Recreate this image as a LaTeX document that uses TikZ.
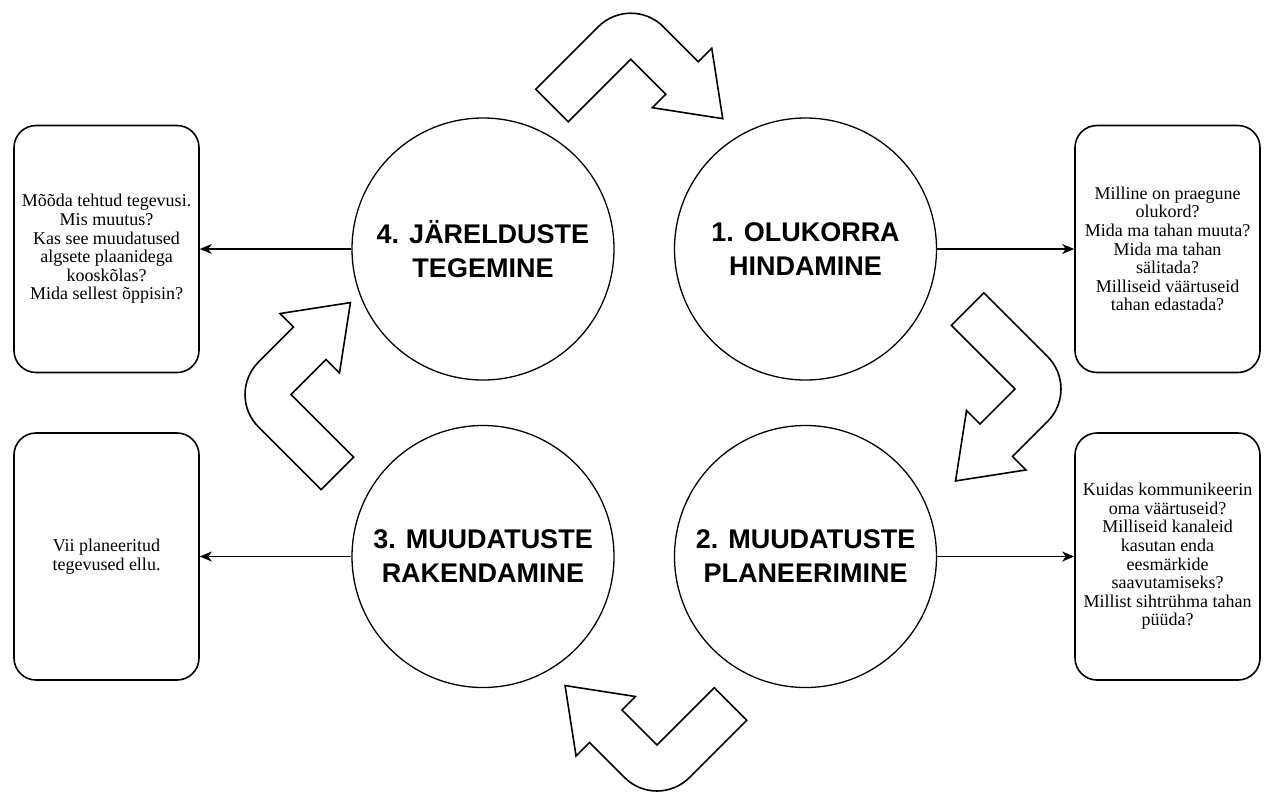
\documentclass[tikz,border=0pt]{standalone}
\usepackage{fontspec}
\setmainfont{Liberation Serif}
\newfontfamily\stagefont{Liberation Sans}
\usetikzlibrary{arrows.meta}
\tikzset{>={Stealth[length=12pt,width=10pt,inset=3.5pt]}}
\tikzstyle{stage}=[circle,draw=black,fill=white,line width=1.3pt,minimum size=262pt,inner sep=0pt,align=center,font=\stagefont\bfseries\fontsize{27}{34}\selectfont]
\tikzstyle{note}=[rectangle,draw=black,fill=white,line width=1.6pt,minimum width=185pt,minimum height=247pt,rounded corners=22pt,align=center,font=\fontsize{18}{18.6}\selectfont]
\tikzstyle{turn}=[draw=black,fill=white,line width=1.6pt,line join=miter]
\tikzstyle{link}=[->,line width=1.3pt]

\begin{document}
\begin{tikzpicture}[x=1pt,y=1pt]
    \useasboundingbox (0,0) rectangle (1268,-796);
    \def \lx {483};
    \def \rx {805.5};
    \def \ty {-249};
    \def \by {-556.5};
    \def \nl {106.5};
    \def \nr {1167.5};

    \node[stage] (c1) at (\rx,\ty) {1. OLUKORRA\\HINDAMINE};
    \node[stage] (c2) at (\rx,\by) {2. MUUDATUSTE\\PLANEERIMINE};
    \node[stage] (c3) at (\lx,\by) {3. MUUDATUSTE\\RAKENDAMINE};
    \node[stage] (c4) at (\lx,\ty) {4. JÄRELDUSTE\\TEGEMINE};

    \node[note] (n1) at (\nr,\ty) {Milline on praegune\\olukord?\\Mida ma tahan muuta?\\Mida ma tahan\\sälitada?\\Milliseid väärtuseid\\tahan edastada?};
    \node[note] (n2) at (\nr,\by) {Kuidas kommunikeerin\\oma väärtuseid?\\Milliseid kanaleid\\kasutan enda\\eesmärkide\\saavutamiseks?\\Millist sihtrühma tahan\\püüda?};
    \node[note] (n3) at (\nl,\by) {Vii planeeritud\\tegevused ellu.};
    \node[note] (n4) at (\nl,\ty) {Mõõda tehtud tegevusi.\\Mis muutus?\\Kas see muudatused\\algsete plaanidega\\kooskõlas?\\Mida sellest õppisin?};

    \draw[link] (c1) -- (n1);
    \draw[link] (c2) -- (n2);
    \draw[link] (c3) -- (n3);
    \draw[link] (c4) -- (n4);

    % bent arrows from one stage to the next
    \foreach \kx/\ky/\rot/\len in {630.8/5.8/-45/134.5, 1080/-389/-135/136, 657/-810/135/127, 226/-394.5/45/134.5} {
        \draw[turn,shift={(\kx,\ky)},rotate=\rot] (0,-\len) -- (46,-\len) -- (46,-46) -- (95.5,-46) -- (95.5,-65) -- (153,-23) -- (95.5,19) -- (95.5,0) -- (46,0) to[out=180,in=90] (0,-46) -- cycle;
    };
\end{tikzpicture}
\end{document}
